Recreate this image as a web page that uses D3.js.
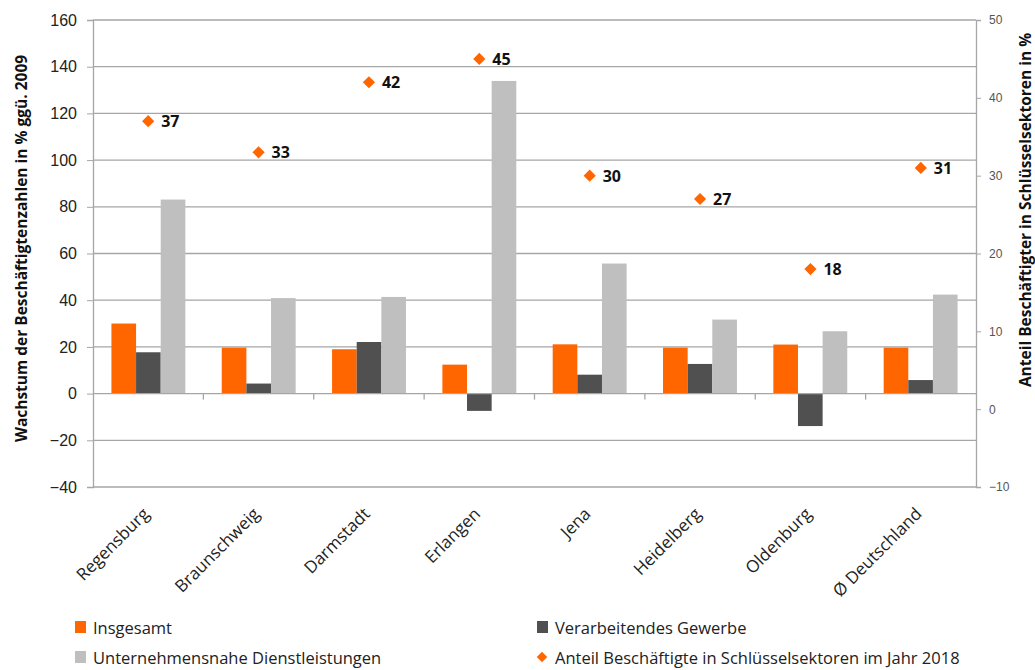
<!DOCTYPE html>
<html><head><meta charset="utf-8">
<script src="https://cdn.jsdelivr.net/npm/d3@7"></script>
<style>body{margin:0;background:#fff;} svg{font-family:"Open Sans",sans-serif;}</style>
</head><body><svg id="c" width="1035" height="670"></svg>
<script>
const categories = ["Regensburg","Braunschweig","Darmstadt","Erlangen","Jena","Heidelberg","Oldenburg","Ø Deutschland"];
const insgesamt = [30.0, 19.7, 19.0, 12.4, 21.1, 19.7, 21.0, 19.7];
const verarbeitend = [17.7, 4.3, 22.1, -7.4, 8.1, 12.7, -13.9, 5.8];
const dienstleistungen = [83.1, 40.9, 41.4, 133.9, 55.7, 31.7, 26.7, 42.4];
const anteil = [37, 33, 42, 45, 30, 27, 18, 31];
const leftTicks = [-40,-20,0,20,40,60,80,100,120,140,160];
const rightTicks = [-10,0,10,20,30,40,50];
const seriesNames = ["Insgesamt","Verarbeitendes Gewerbe","Unternehmensnahe Dienstleistungen","Anteil Beschäftigte in Schlüsselsektoren im Jahr 2018"];
const colors = ["#FF6600","#505050","#BFBFBF","#FF6600"];

const svg = d3.select("#c");
const L=93, R=976, T=20, B=487;
const x = d3.scaleBand().domain(categories).range([L,R]).paddingInner(0.33).paddingOuter(0.167);
const xc = d3.scaleBand().domain(categories).range([L,R]);
const y = d3.scaleLinear().domain([-40,160]).range([B,T]);
const y2 = d3.scaleLinear().domain([-10,50]).range([B,T]);
const sub = d3.scaleBand().domain([0,1,2]).range([0,x.bandwidth()]);

// gridlines
svg.append("g").selectAll("line").data(leftTicks.filter(d=>d!==0)).join("line")
  .attr("x1",L).attr("x2",R).attr("y1",d=>y(d)).attr("y2",d=>y(d))
  .attr("stroke","#A6A6A6").attr("stroke-width",1.3);

// left axis
const ga = svg.append("g").attr("transform",`translate(${L},0)`)
  .call(d3.axisLeft(y).tickValues(leftTicks).tickSize(6).tickPadding(10));
ga.select(".domain").attr("stroke","#A6A6A6").attr("stroke-width",1.3);
ga.selectAll(".tick line").attr("stroke","#A6A6A6");
ga.selectAll("text").attr("font-size",16).attr("fill","#222");

// right axis
const gr = svg.append("g").attr("transform",`translate(${R},0)`)
  .call(d3.axisRight(y2).tickValues(rightTicks).tickSize(5).tickPadding(8));
gr.select(".domain").attr("stroke","#A6A6A6").attr("stroke-width",1.3);
gr.selectAll(".tick line").attr("stroke","#A6A6A6");
gr.selectAll("text").attr("font-size",12).attr("fill","#555");

// bars
const series = [insgesamt, verarbeitend, dienstleistungen];
series.forEach((vals,si)=>{
  svg.append("g").selectAll("rect").data(vals).join("rect")
    .attr("x",(d,i)=>x(categories[i])+sub(si))
    .attr("width",sub.bandwidth())
    .attr("y",d=>y(Math.max(0,d)))
    .attr("height",d=>Math.abs(y(d)-y(0)))
    .attr("fill",colors[si]);
});

// zero axis line with category ticks
svg.append("line").attr("x1",L).attr("x2",R).attr("y1",y(0)).attr("y2",y(0))
  .attr("stroke","#A6A6A6").attr("stroke-width",1.3);
svg.append("g").selectAll("line").data(categories.slice(1)).join("line")
  .attr("x1",d=>xc(d)).attr("x2",d=>xc(d)).attr("y1",y(0)).attr("y2",y(0)+6)
  .attr("stroke","#A6A6A6").attr("stroke-width",1.3);

// diamonds
const dia = d3.symbol().type(d3.symbolDiamond2).size(95);
svg.append("g").selectAll("path").data(anteil).join("path")
  .attr("d",dia)
  .attr("transform",(d,i)=>`translate(${xc(categories[i])+xc.bandwidth()/2},${y2(d)})`)
  .attr("fill",colors[3]);
svg.append("g").selectAll("text").data(anteil).join("text")
  .attr("x",(d,i)=>xc(categories[i])+xc.bandwidth()/2+13)
  .attr("y",d=>y2(d)+6)
  .attr("font-size",16).attr("font-weight","bold").attr("fill","#111")
  .text(d=>d);

// x labels
svg.append("g").selectAll("text").data(categories).join("text")
  .attr("transform",d=>`translate(${xc(d)+xc.bandwidth()/2+2},${515}) rotate(-45)`)
  .attr("text-anchor","end").attr("font-size",17).attr("fill","#222")
  .text(d=>d);

// axis titles
svg.append("text").attr("transform",`translate(27,${(T+B)/2-5}) rotate(-90)`)
  .attr("text-anchor","middle").attr("font-size",15.5).attr("font-weight","bold").attr("fill","#111")
  .text("Wachstum der Beschäftigtenzahlen in % ggü. 2009");
svg.append("text").attr("transform",`translate(1031,210) rotate(-90)`)
  .attr("text-anchor","middle").attr("font-size",15.5).attr("font-weight","bold").attr("fill","#111")
  .text("Anteil Beschäftigter in Schlüsselsektoren in %");

// legend
const leg = [{x:75,y:634,i:0},{x:537,y:634,i:1},{x:75,y:664,i:2},{x:537,y:664,i:3}];
leg.forEach(l=>{
  if(l.i<3){
    svg.append("rect").attr("x",l.x).attr("y",l.y-13).attr("width",11).attr("height",12).attr("fill",colors[l.i]);
  } else {
    svg.append("path").attr("d",d3.symbol().type(d3.symbolDiamond2).size(70))
      .attr("transform",`translate(${l.x+5},${l.y-7})`).attr("fill",colors[3]);
  }
  svg.append("text").attr("x",l.x+18).attr("y",l.y).attr("font-size",16.5).attr("fill","#222")
    .text(seriesNames[l.i]);
});
</script></body></html>
